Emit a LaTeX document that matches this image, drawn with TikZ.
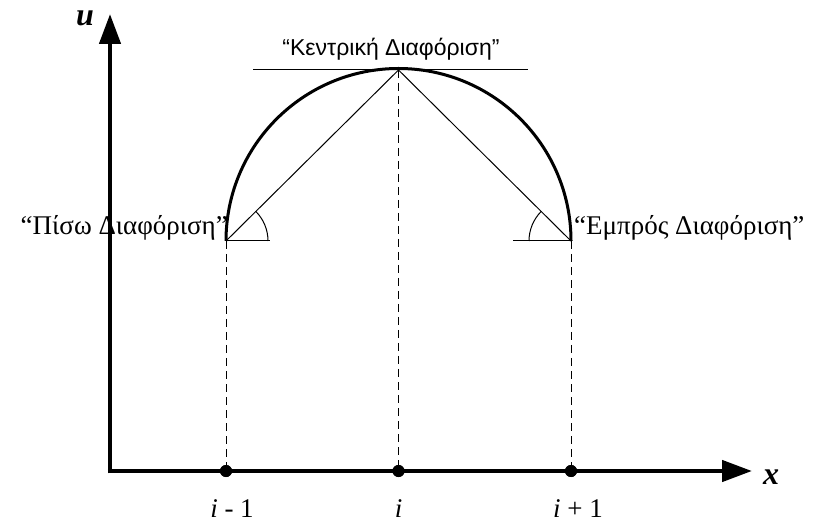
\documentclass[tikz,border=0pt]{standalone}
\usepackage{fontspec}
\setmainfont{Liberation Serif}
\newfontfamily\arialf{Liberation Sans}
\usetikzlibrary{arrows.meta}
\begin{document}
\begin{tikzpicture}[x=1pt,y=1pt,
  axis/.style={line width=4.5pt,-{Triangle[length=30pt,width=21pt]}},
  thinline/.style={line width=1pt},
  dashline/.style={line width=1pt,dash pattern=on 8pt off 5pt},
  dotnode/.style={circle,fill=black,inner sep=0pt,minimum size=12pt},
  lbl/.style={font=\fontsize{27}{31}\selectfont,inner sep=0pt},
  axlbl/.style={font=\fontsize{32}{36}\selectfont\bfseries\itshape,inner sep=0pt}]
\useasboundingbox (0,0) rectangle (818,522);
\coordinate (O) at (110,51);
\coordinate (ytip) at (110,508);
\coordinate (xtip) at (752,51);
\coordinate (L) at (226,281);
\coordinate (T) at (398.5,452);
\coordinate (R) at (571,281);
\coordinate (tl) at (253,452);
\coordinate (tr) at (528,452);
\coordinate (lh) at (270,281);
\coordinate (rh) at (513,281);
% dots on the x axis
\node[dotnode] (d1) at (226,51) {};
\node[dotnode] (d2) at (398.5,51) {};
\node[dotnode] (d3) at (571,51) {};
% dashed verticals
\draw[dashline] (L) -- (d1.center);
\draw[dashline] (T) -- (d2.center);
\draw[dashline] (R) -- (d3.center);
% axes
\draw[axis] ([yshift=-2.25pt]O) -- (ytip);
\draw[axis] ([xshift=-2.25pt]O) -- (xtip);
\fill (d1.center) circle[radius=6pt];
\fill (d2.center) circle[radius=6pt];
\fill (d3.center) circle[radius=6pt];
% semicircle
\draw[line width=3pt] (L) arc[start angle=180,end angle=0,radius=172.5];
% tangent and chords
\draw[thinline] (tl) -- (tr);
\draw[thinline] (L) -- (T) -- (R);
\draw[thinline] (L) -- (lh);
\draw[thinline] (R) -- (rh);
\draw[thinline] ([xshift=42pt]L) arc[start angle=0,end angle=45,radius=42];
\draw[thinline] ([xshift=-42pt]R) arc[start angle=180,end angle=135,radius=42];
% labels
\node[axlbl,anchor=base] (u) at (85,496) {u};
\node[axlbl,anchor=base] (x) at (771,38) {x};
\node[lbl,anchor=base] (l1) at (232,5) {\textit{i} - 1};
\node[lbl,anchor=base] (l2) at (398.5,5) {\textit{i}};
\node[lbl,anchor=base] (l3) at (578,5) {\textit{i} + 1};
\node[lbl,anchor=base east] (back) at (228,287) {“Πίσω Διαφόριση”};
\node[lbl,anchor=base west] (fwd) at (574,287) {“Εμπρός Διαφόριση”};
\node[font=\arialf\fontsize{23}{27}\selectfont,inner sep=0pt,anchor=base] (cen) at (391,466) {“Κεντρική Διαφόριση”};
\end{tikzpicture}
\end{document}
